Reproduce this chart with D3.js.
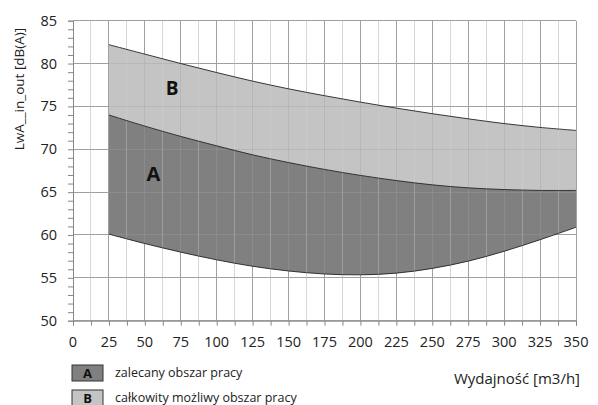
<!DOCTYPE html>
<html><head><meta charset="utf-8">
<script src="https://cdn.jsdelivr.net/npm/d3@7"></script>
<style>body{margin:0;background:#fff}svg{display:block}text{font-family:"Open Sans",sans-serif}</style>
</head><body><svg id="c" width="598" height="405"></svg>
<script>
const flow = [25,50,75,100,125,150,175,200,225,250,275,300,325,350];
const bUpper = [82.2,81.1,80.0,78.95,77.95,77.05,76.25,75.5,74.8,74.15,73.55,73.0,72.55,72.2];
const aUpper = [74.0,72.7,71.5,70.4,69.35,68.45,67.65,66.95,66.35,65.85,65.5,65.3,65.2,65.2];
const aLower = [60.1,59.0,58.0,57.1,56.35,55.8,55.45,55.35,55.55,56.1,56.95,58.1,59.45,60.9];
const xTicks = d3.range(0,351,25);
const yTicks = d3.range(50,86,5);
const legendItems = [{k:"A",label:"zalecany obszar pracy",c:"#808080"},{k:"B",label:"całkowity możliwy obszar pracy",c:"#c4c4c4"}];

const svg = d3.select("#c");
const x = d3.scaleLinear().domain([0,350]).range([73,576]);
const y = d3.scaleLinear().domain([50,85]).range([320.7,20.7]);

function grid(g, op){
  g.selectAll(".vm").data(d3.range(0,351,12.5)).join("line")
    .attr("x1",d=>x(d)).attr("x2",d=>x(d)).attr("y1",y(50)).attr("y2",y(85))
    .attr("stroke",d=>d%25===0?"#a0a0a0":"#d6d6d6").attr("stroke-width",1).attr("opacity",op)
    .attr("shape-rendering","crispEdges");
  g.selectAll(".hm").data(yTicks).join("line")
    .attr("x1",x(0)).attr("x2",x(350)).attr("y1",d=>y(d)).attr("y2",d=>y(d))
    .attr("stroke","#a0a0a0").attr("opacity",op).attr("shape-rendering","crispEdges");
}
grid(svg.append("g"),1);

const pts = flow.map((f,i)=>({f,bu:bUpper[i],au:aUpper[i],al:aLower[i]}));
const cv = d3.curveCatmullRom.alpha(0.5);
svg.append("path").datum(pts).attr("fill","#c4c4c4")
  .attr("d",d3.area().curve(cv).x(d=>x(d.f)).y0(d=>y(d.au)).y1(d=>y(d.bu)));
svg.append("path").datum(pts).attr("fill","#808080")
  .attr("d",d3.area().curve(cv).x(d=>x(d.f)).y0(d=>y(d.al)).y1(d=>y(d.au)));
grid(svg.append("g"),0.35);
["bu","au","al"].forEach(k=>{
  svg.append("path").datum(pts).attr("fill","none").attr("stroke","#222").attr("stroke-width",0.9)
    .attr("d",d3.line().curve(cv).x(d=>x(d.f)).y(d=>y(d[k])));
});

// axes
const ax = svg.append("g").attr("transform",`translate(0,${y(50)})`)
  .call(d3.axisBottom(x).tickValues(d3.range(0,351,12.5)).tickSize(5).tickFormat(""));
ax.select(".domain").attr("stroke","#888");
ax.selectAll(".tick line").attr("stroke","#888");
const ay = svg.append("g").attr("transform",`translate(${x(0)},0)`)
  .call(d3.axisLeft(y).tickValues(d3.range(50,86,1)).tickSize(5).tickFormat(""));
ay.select(".domain").attr("stroke","#888");
ay.selectAll(".tick line").attr("stroke","#888");

svg.append("g").selectAll("text").data(xTicks).join("text")
  .attr("x",d=>x(d)).attr("y",347).attr("text-anchor","middle")
  .attr("font-size",14.5).attr("fill","#222").text(d=>d);
svg.append("g").selectAll("text").data(yTicks).join("text")
  .attr("x",57).attr("y",d=>y(d)+5).attr("text-anchor","end")
  .attr("font-size",14.5).attr("fill","#222").text(d=>d);

svg.append("text").attr("transform","translate(24,89) rotate(-90)").attr("text-anchor","middle")
  .attr("font-size",13.5).attr("fill","#222").text("LwA__in_out [dB(A)]");
svg.append("text").attr("x",580).attr("y",384).attr("text-anchor","end")
  .attr("font-size",15).attr("fill","#222").text("Wydajność [m3/h]");

svg.append("text").attr("x",x(56)).attr("y",y(66.3)).attr("text-anchor","middle")
  .attr("font-size",20).attr("font-weight","bold").attr("fill","#111").text("A");
svg.append("text").attr("x",x(69)).attr("y",y(76.3)).attr("text-anchor","middle")
  .attr("font-size",19).attr("font-weight","bold").attr("fill","#111").text("B");

const lg = svg.append("g").selectAll("g").data(legendItems).join("g")
  .attr("transform",(d,i)=>`translate(72,${365+i*25})`);
lg.append("rect").attr("width",31).attr("height",16).attr("fill",d=>d.c).attr("stroke","#333");
lg.append("text").attr("x",15.5).attr("y",13).attr("text-anchor","middle").attr("font-size",13)
  .attr("font-weight","bold").attr("fill","#111").text(d=>d.k);
lg.append("text").attr("x",43).attr("y",12).attr("font-size",12.5).attr("fill","#222").text(d=>d.label);
</script></body></html>
